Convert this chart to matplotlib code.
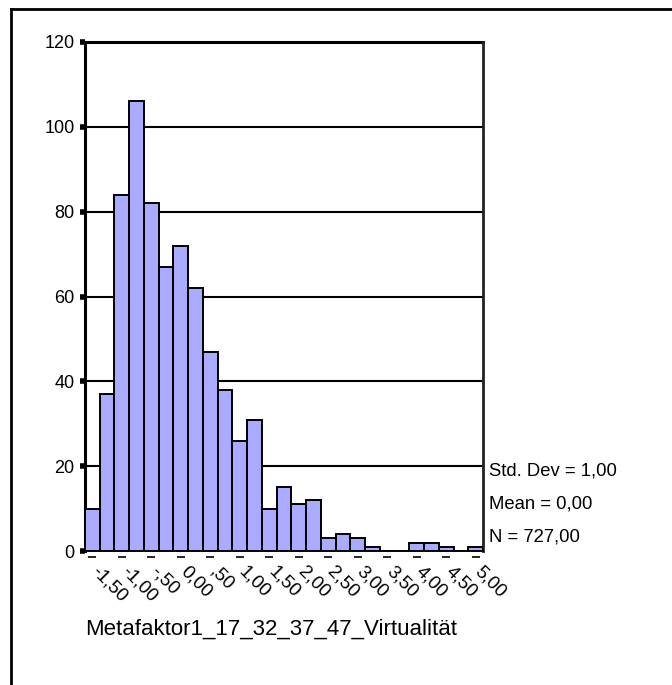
import matplotlib
matplotlib.use("Agg")
import matplotlib.pyplot as plt
from matplotlib.lines import Line2D
import matplotlib.transforms as mtransforms

plt.rcParams['font.family'] = ['Liberation Sans', 'DejaVu Sans']

bin_centers = [-1.50, -1.25, -1.00, -0.75, -0.50, -0.25, 0.00, 0.25, 0.50, 0.75,
               1.00, 1.25, 1.50, 1.75, 2.00, 2.25, 2.50, 2.75, 3.00, 3.25,
               3.50, 3.75, 4.00, 4.25, 4.50, 4.75, 5.00]
counts = [10, 37, 84, 106, 82, 67, 72, 62, 47, 38,
          26, 31, 10, 15, 11, 12, 3, 4, 3, 1,
          0, 0, 2, 2, 1, 0, 1]
xtick_values = [-1.50, -1.00, -0.50, 0.00, 0.50, 1.00, 1.50, 2.00, 2.50, 3.00,
                3.50, 4.00, 4.50, 5.00]
xtick_labels = ["-1,50", "-1,00", "-,50", "0,00", ",50", "1,00", "1,50", "2,00",
                "2,50", "3,00", "3,50", "4,00", "4,50", "5,00"]
yticks = [0, 20, 40, 60, 80, 100, 120]
stats_lines = ["Std. Dev = 1,00", "Mean = 0,00", "N = 727,00"]
xlabel = "Metafaktor1_17_32_37_47_Virtualität"
bin_width = 0.25

fig = plt.figure(figsize=(6.72, 6.85), dpi=100)
W, H = 672, 685
ax = fig.add_axes([85 / W, 1 - 551 / H, (483 - 85) / W, (551 - 42) / H])

ax.bar(bin_centers, counts, width=bin_width, color='#aaaaff', edgecolor='black',
       linewidth=1.4, zorder=3)
ax.set_xlim(bin_centers[0] - bin_width / 2, bin_centers[-1] + bin_width / 2)
ax.set_ylim(0, 120)

for y in yticks[1:]:
    ax.axhline(y, color='black', linewidth=1.5 if y < 120 else 2.2, zorder=1,
               clip_on=False)

ax.set_yticks(yticks)
ax.set_yticklabels([str(v) for v in yticks], fontsize=13)
ax.tick_params(axis='y', direction='out', length=3.5, width=4, pad=4, color='black')

ax.set_xticks([])
trans = mtransforms.blended_transform_factory(ax.transData, ax.transAxes)
ax.plot(xtick_values, [-0.012] * len(xtick_values), linestyle='none', marker='_',
        markersize=6, markeredgewidth=1.2, color='black', transform=trans, clip_on=False)
offset = mtransforms.ScaledTranslation(8 / 100, -1 / 100, fig.dpi_scale_trans)
for xv, lab in zip(xtick_values, xtick_labels):
    ax.text(xv, -0.022, lab, transform=trans + offset, rotation=-45,
            rotation_mode='anchor', ha='left', va='top', fontsize=13.5)

ax.spines['top'].set_visible(False)
ax.spines['left'].set_linewidth(2.2)
ax.spines['right'].set_linewidth(2.0)
ax.spines['right'].set_color('#222222')
ax.spines['bottom'].set_linewidth(1.4)

# stats text
stat_y = [471, 504, 537]
for txt, yp in zip(stats_lines, stat_y):
    fig.text(489 / W, 1 - yp / H, txt, ha='left', va='center', fontsize=13.3)

fig.text(85 / W, 1 - 629 / H, xlabel, ha='left', va='center', fontsize=16)

# outer frame (left and top edges)
fig.add_artist(Line2D([11 / W, 11 / W], [0, 1 - 9 / H], color='black', linewidth=2,
                      transform=fig.transFigure))
fig.add_artist(Line2D([11 / W, 1], [1 - 9 / H, 1 - 9 / H], color='black', linewidth=2,
                      transform=fig.transFigure))

fig.savefig('out.png', dpi=100)
